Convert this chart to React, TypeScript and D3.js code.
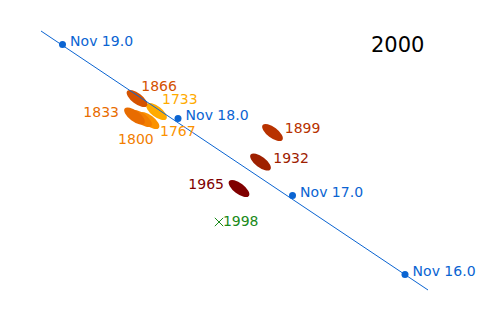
import React from "react";
import * as d3 from "d3";

// Trail positions (sky units), year of ejection
const years = [1767, 1800, 1833, 1733, 1866, 1899, 1932, 1965];
const trailX = [29.8, 28.3, 26.9, 31.3, 27.4, 54.5, 52.1, 47.8];
const trailY = [39.9, 40.3, 40.8, 41.7, 44.3, 37.5, 31.6, 26.3];
const trailColors = ["#fb9200", "#f27e00", "#e86c00", "#ffab00", "#d45200", "#b83200", "#9e2000", "#800000"];

// 1998 trail: marked with a cross
const crossYear = [1998];
const crossX = [43.8];
const crossY = [19.6];

// Earth path with date ticks
const dateLabels = ["Nov 19.0", "Nov 18.0", "Nov 17.0", "Nov 16.0"];
const dateX = [12.5, 35.6, 58.5, 81.0];
const dateY = [55.1, 40.3, 24.9, 9.1];
const pathX = [8.2, 85.6];
const pathY = [57.8, 6.0];

const title = "2000";

// label layout offsets (px) relative to each mark
const labelOffsets: Record<number, [number, number, string]> = {
  1733: [5.5, -7.3, "start"],
  1767: [11, 15, "start"],
  1800: [-23.4, 25.5, "start"],
  1833: [-15.5, 0.7, "end"],
  1866: [4.3, -7.7, "start"],
  1899: [12.3, 0.8, "start"],
  1932: [12.8, 0.7, "start"],
  1965: [-15, 0.7, "end"],
  1998: [3.9, 4.2, "start"],
};

export default function App() {
  const W = 500;
  const H = 320;
  const x = d3.scaleLinear().domain([0, 100]).range([0, W]);
  const y = d3.scaleLinear().domain([64, 0]).range([0, H]);
  const blue = "#0a64d2";
  const font = "'DejaVu Sans', sans-serif";
  const line = d3.line<number>().x((_, i) => x(pathX[i])).y((_, i) => y(pathY[i]));

  return (
    <svg width={W} height={H} style={{ position: "absolute", left: 0, top: 0, background: "#fff" }}>
      {years.map((yr, i) => {
        const cx = x(trailX[i]);
        const cy = y(trailY[i]);
        return (
          <ellipse
            key={"e" + yr}
            cx={cx}
            cy={cy}
            rx={12.3}
            ry={5.4}
            transform={`rotate(37 ${cx} ${cy})`}
            fill={trailColors[i]}
          />
        );
      })}
      <path d={line(pathX) || ""} stroke={blue} strokeWidth={1} fill="none" />
      {dateLabels.map((lab, i) => {
        const cx = x(dateX[i]);
        const cy = y(dateY[i]);
        return (
          <g key={lab}>
            <circle cx={cx} cy={cy} r={3.5} fill={blue} />
            <text x={cx + 7.6} y={cy + 1} fill={blue} fontFamily={font} fontSize={14}>
              {lab}
            </text>
          </g>
        );
      })}
      {years.map((yr, i) => {
        const [dx, dy, anchor] = labelOffsets[yr];
        return (
          <text
            key={"t" + yr}
            x={x(trailX[i]) + dx}
            y={y(trailY[i]) + dy}
            fill={trailColors[i]}
            fontFamily={font}
            fontSize={14}
            textAnchor={anchor as any}
          >
            {yr}
          </text>
        );
      })}
      {crossYear.map((yr, i) => {
        const cx = x(crossX[i]);
        const cy = y(crossY[i]);
        const s = 4.2;
        const [dx, dy] = labelOffsets[yr];
        return (
          <g key={"c" + yr}>
            <path
              d={`M${cx - s},${cy - s}L${cx + s},${cy + s}M${cx - s},${cy + s}L${cx + s},${cy - s}`}
              stroke="#1a8a1a"
              strokeWidth={1}
            />
            <text x={cx + dx} y={cy + dy} fill="#1a8a1a" fontFamily={font} fontSize={14}>
              {yr}
            </text>
          </g>
        );
      })}
      <text x={371} y={52.3} fill="#000" fontFamily={font} fontSize={21}>
        {title}
      </text>
    </svg>
  );
}
